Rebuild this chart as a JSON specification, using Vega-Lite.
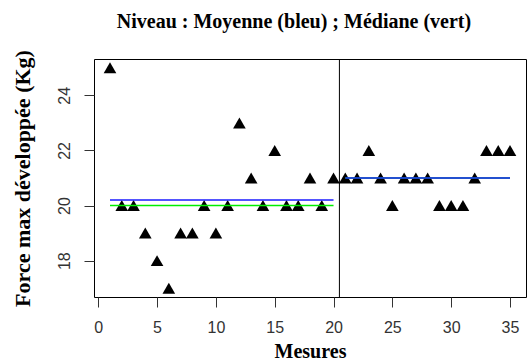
{
  "$schema": "https://vega.github.io/schema/vega-lite/v6.json",
  "width": 432,
  "height": 238,
  "autosize": {"type": "none"},
  "padding": {"left": 94, "top": 59, "right": 4, "bottom": 65},
  "background": "white",
  "title": {
    "text": "Niveau : Moyenne (bleu) ; Médiane (vert)",
    "font": "Liberation Serif",
    "fontWeight": "bold",
    "fontSize": 20,
    "color": "black",
    "anchor": "middle",
    "baseline": "alphabetic",
    "offset": 2,
    "dx": -16
  },
  "config": {
    "view": {"stroke": "black", "strokeWidth": 1},
    "axis": {
      "grid": false,
      "domain": false,
      "tickColor": "#333",
      "tickSize": 10,
      "tickWidth": 1,
      "labelFont": "Liberation Sans",
      "labelFontSize": 16,
      "labelColor": "#333",
      "titleFont": "Liberation Serif",
      "titleFontWeight": "bold",
      "titleFontSize": 20,
      "titleColor": "black"
    }
  },
  "datasets": {
    "pts": [
      {"mesure": 1, "force": 25}, {"mesure": 2, "force": 20}, {"mesure": 3, "force": 20},
      {"mesure": 4, "force": 19}, {"mesure": 5, "force": 18}, {"mesure": 6, "force": 17},
      {"mesure": 7, "force": 19}, {"mesure": 8, "force": 19}, {"mesure": 9, "force": 20},
      {"mesure": 10, "force": 19}, {"mesure": 11, "force": 20}, {"mesure": 12, "force": 23},
      {"mesure": 13, "force": 21}, {"mesure": 14, "force": 20}, {"mesure": 15, "force": 22},
      {"mesure": 16, "force": 20}, {"mesure": 17, "force": 20}, {"mesure": 18, "force": 21},
      {"mesure": 19, "force": 20}, {"mesure": 20, "force": 21}, {"mesure": 21, "force": 21},
      {"mesure": 22, "force": 21}, {"mesure": 23, "force": 22}, {"mesure": 24, "force": 21},
      {"mesure": 25, "force": 20}, {"mesure": 26, "force": 21}, {"mesure": 27, "force": 21},
      {"mesure": 28, "force": 21}, {"mesure": 29, "force": 20}, {"mesure": 30, "force": 20},
      {"mesure": 31, "force": 20}, {"mesure": 32, "force": 21}, {"mesure": 33, "force": 22},
      {"mesure": 34, "force": 22}, {"mesure": 35, "force": 22}
    ],
    "segs": [
      {"stat": "Médiane", "debut": 1, "fin": 20, "niveau": 20},
      {"stat": "Médiane", "debut": 21, "fin": 35, "niveau": 21},
      {"stat": "Moyenne", "debut": 1, "fin": 20, "niveau": 20.2},
      {"stat": "Moyenne", "debut": 21, "fin": 35, "niveau": 21}
    ],
    "split": [{"pos": 20.5}]
  },
  "layer": [
    {
      "data": {"name": "pts"},
      "mark": {"type": "point", "shape": "triangle-up", "filled": true, "color": "black", "opacity": 1, "size": 160},
      "encoding": {
        "x": {
          "field": "mesure", "type": "quantitative",
          "scale": {"domain": [-0.36, 36.36], "nice": false, "zero": false},
          "axis": {"values": [0, 5, 10, 15, 20, 25, 30, 35], "title": "Mesures", "labelPadding": 12, "titlePadding": 6, "labelFlush": false}
        },
        "y": {
          "field": "force", "type": "quantitative",
          "scale": {"domain": [16.68, 25.32], "nice": false, "zero": false},
          "axis": {"values": [18, 20, 22, 24], "title": "Force max développée (Kg)", "titleFontSize": 22, "labelAngle": 270, "labelAlign": "center", "labelBaseline": "alphabetic", "labelPadding": 15, "titlePadding": 22, "labelFlush": false}
        }
      }
    },
    {
      "data": {"name": "segs"},
      "mark": {"type": "rule", "strokeWidth": 1.6},
      "encoding": {
        "x": {"field": "debut", "type": "quantitative"},
        "x2": {"field": "fin"},
        "y": {"field": "niveau", "type": "quantitative"},
        "color": {"field": "stat", "type": "nominal", "scale": {"domain": ["Médiane", "Moyenne"], "range": ["#00ee00", "#1a1aff"]}, "legend": null}
      }
    },
    {
      "data": {"name": "split"},
      "mark": {"type": "rule", "color": "black", "strokeWidth": 1},
      "encoding": {
        "x": {"field": "pos", "type": "quantitative"}
      }
    }
  ]
}
